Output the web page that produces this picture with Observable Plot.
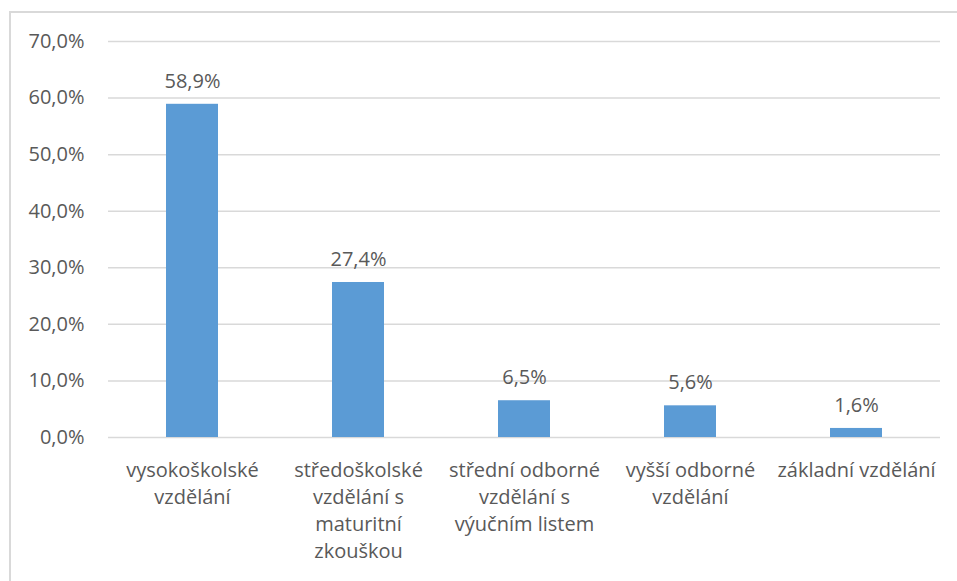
<!DOCTYPE html>
<html>
<head>
<meta charset="utf-8">
<script src="https://cdn.jsdelivr.net/npm/d3@7"></script>
<script src="https://cdn.jsdelivr.net/npm/@observablehq/plot@0.6"></script>
<style>
  html, body { margin: 0; padding: 0; background: #fff; overflow: hidden; }
  #wrap { position: relative; width: 957px; height: 581px; }
  #frame { position: absolute; left: 9px; top: 11px; width: 960px; height: 590px; border: 2px solid #d9d9d9; box-sizing: border-box; pointer-events: none; }
  #chart { position: absolute; left: 0; top: 0; }
</style>
</head>
<body>
<div id="wrap"><div id="frame"></div><div id="chart"></div></div>
<script>
const categories = ["vysokoškolské vzdělání", "středoškolské vzdělání s maturitní zkouškou", "střední odborné vzdělání s výučním listem", "vyšší odborné vzdělání", "základní vzdělání"];
const categoryLines = ["vysokoškolské\nvzdělání", "středoškolské\nvzdělání s\nmaturitní\nzkouškou", "střední odborné\nvzdělání s\nvýučním listem", "vyšší odborné\nvzdělání", "základní vzdělání"];
const values = [58.9, 27.4, 6.5, 5.6, 1.6];
const yTicks = [0, 10, 20, 30, 40, 50, 60, 70];

const data = categories.map((c, i) => ({category: c, value: values[i]}));
const fmt = (v, d) => v.toFixed(d).replace(".", ",") + "%";
const textColor = "#595959";
const font = "'Open Sans', sans-serif";

const chart = Plot.plot({
  width: 957,
  height: 581,
  marginLeft: 108,
  marginRight: 17,
  marginTop: 41,
  marginBottom: 144,
  style: {fontFamily: font, fontSize: "20px", color: textColor, background: "transparent"},
  x: {domain: categories, paddingInner: 0.6875, paddingOuter: 0.344, label: null},
  y: {domain: [0, 70], label: null},
  marks: [
    Plot.ruleY(yTicks, {stroke: "#d9d9d9", strokeWidth: 1.5}),
    Plot.barY(data, {x: "category", y: "value", fill: "#5b9bd5"}),
    Plot.text(data, {x: "category", y: "value", text: d => fmt(d.value, 1), dy: -23, fill: textColor, fontSize: 20}),
    Plot.axisY({ticks: yTicks, tickFormat: d => fmt(d, 1), tickSize: 0, tickPadding: 24, fontSize: 20, fill: textColor}),
    Plot.axisX({tickSize: 0, tickPadding: 20, tickFormat: (d) => categoryLines[categories.indexOf(d)], lineHeight: 1.36, fontSize: 20, fill: textColor, textAnchor: "middle", lineAnchor: "top"})
  ]
});
document.getElementById("chart").appendChild(chart);
</script>
</body>
</html>
